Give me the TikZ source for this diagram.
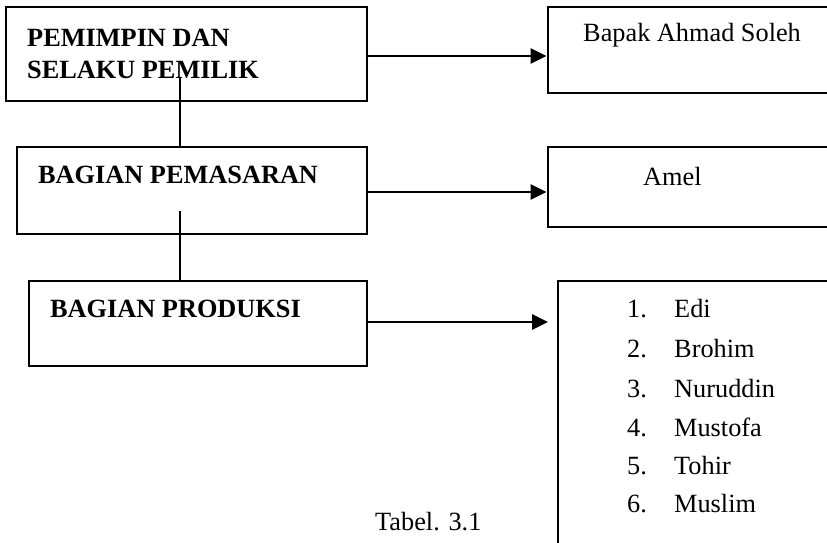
\documentclass[tikz,border=0pt]{standalone}
\usepackage{fontspec}
\setmainfont{Liberation Serif}
\usetikzlibrary{arrows.meta}
\begin{document}
\begin{tikzpicture}[x=1pt,y=-1pt,
  box/.style={draw,line width=2.8pt,rectangle,inner sep=0pt},
  lbl/.style={anchor=base west,inner sep=0pt,font=\fontsize{26.3}{31}\selectfont},
  hdr/.style={lbl,font=\fontsize{26.3}{31}\selectfont\bfseries},
  conn/.style={line width=2.8pt},
  arr/.style={line width=2.8pt,-{Triangle[length=16pt,width=15pt]}}]
\useasboundingbox (0,0) rectangle (827,543);
\begin{scope}
\clip (0,0) rectangle (827,543);
\node[box,minimum width=361pt,minimum height=94pt] (b1) at (186.5,54) {};
\node[box,minimum width=350pt,minimum height=87pt] (b2) at (192,190.5) {};
\node[box,minimum width=338pt,minimum height=85pt] (b3) at (198,323.5) {};
\node[box,minimum width=284pt,minimum height=86pt] (b4) at (690,50) {};
\node[box,minimum width=284pt,minimum height=80pt] (b5) at (690,187) {};
\node[box,minimum width=274pt,minimum height=267pt] (b6) at (695,414.5) {};
\end{scope}
\node[hdr] (t1a) at (27,47) {PEMIMPIN DAN};
\node[hdr] (t1b) at (27,78) {SELAKU PEMILIK};
\node[hdr] (t2) at (38,183) {BAGIAN PEMASARAN};
\node[hdr] (t3) at (50,317) {BAGIAN PRODUKSI};
\node[lbl] (t4) at (583,42) {Bapak Ahmad Soleh};
\node[lbl] (t5) at (643,185) {Amel};
\foreach \n/\name/\y in {1/Edi/317,2/Brohim/357,3/Nuruddin/397,4/Mustofa/436,5/Tohir/474,6/Muslim/512}{
  \node[lbl] (n\n) at (627,\y) {\n.};
  \node[lbl] (m\n) at (674,\y) {\name};
}
\node[lbl] (cap) at (375,530) {Tabel. 3.1};
\coordinate (v1) at (180,78);
\coordinate (v2) at (180,211);
\draw[conn] (v1) -- (v1 |- b2.north);
\draw[conn] (v2) -- (v2 |- b3.north);
\draw[arr] (b1.east |- 0,56) -- (b4.west |- 0,56);
\draw[arr] (b2.east |- 0,192) -- (b5.west |- 0,192);
\coordinate (a3e) at (548,322);
\draw[arr] (b3.east |- 0,322) -- (a3e);
\end{tikzpicture}
\end{document}
